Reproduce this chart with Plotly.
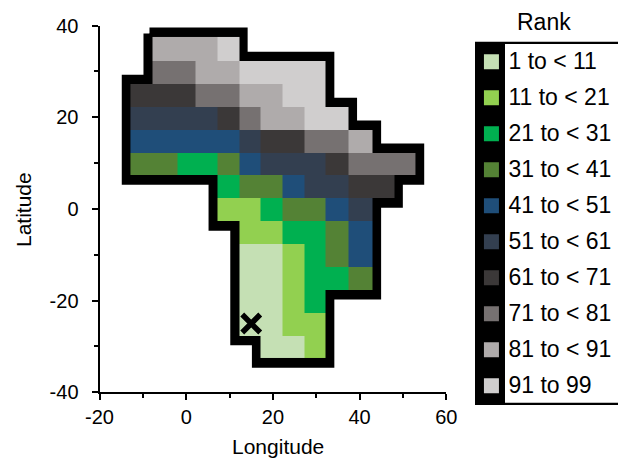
import plotly.graph_objects as go

N = None
rank_labels = ["1 to < 11", "11 to < 21", "21 to < 31", "31 to < 41", "41 to < 51",
               "51 to < 61", "61 to < 71", "71 to < 81", "81 to < 91", "91 to 99"]
rank_colors = ["#C5E0B4", "#92D050", "#00B050", "#548235", "#1F4E79",
               "#333F50", "#3B3838", "#767171", "#AFABAB", "#D0CECE"]

lon_edges = [-12.86, -7.85, -2.08, 2.15, 7.16, 12.17, 17.16, 22.17, 27.18, 32.17, 37.41, 42.96, 47.97, 52.9]
lat_edges = [37.5, 32.2, 27.2, 22.2, 17.2, 12.2, 7.3, 2.3, -2.7, -7.7, -12.6, -17.7, -22.6, -27.7, -32.6]

rank_grid = [
    [N, 9, 9, 9, 10, N, N, N, N, N, N, N, N],
    [N, 8, 8, 9, 9, 10, 10, 10, 10, N, N, N, N],
    [7, 7, 7, 8, 8, 9, 9, 10, 10, N, N, N, N],
    [6, 6, 6, 6, 7, 8, 9, 9, 10, 10, N, N, N],
    [5, 5, 5, 5, 5, 6, 7, 7, 8, 8, 9, N, N],
    [4, 4, 3, 3, 4, 5, 6, 6, 6, 7, 8, 8, 8],
    [N, N, N, N, 3, 4, 4, 5, 6, 6, 7, 7, N],
    [N, N, N, N, 2, 2, 3, 4, 4, 5, 6, N, N],
    [N, N, N, N, N, 2, 2, 3, 3, 4, 5, N, N],
    [N, N, N, N, N, 1, 1, 2, 3, 4, 5, N, N],
    [N, N, N, N, N, 1, 1, 2, 3, 3, 4, N, N],
    [N, N, N, N, N, 1, 1, 2, 3, N, N, N, N],
    [N, N, N, N, N, 1, 1, 2, 2, N, N, N, N],
    [N, N, N, N, N, N, 1, 1, 2, N, N, N, N],
]

# Region border, clockwise, as indices into lon_edges / lat_edges
border_cols = [1, 5, 5, 9, 9, 10, 10, 11, 11, 13, 13, 12, 12, 11, 11, 9, 9, 6, 6, 5, 5, 4, 4, 0, 0, 1]
border_rows = [0, 0, 1, 1, 3, 3, 4, 4, 5, 5, 6, 6, 7, 7, 11, 11, 14, 14, 13, 13, 8, 8, 6, 6, 2, 2]

marker_lon = [15]
marker_lat = [-25]

x_ticks = [-20, 0, 20, 40, 60]
y_ticks = [-40, -20, 0, 20, 40]

X_DOM = [99.5 / 618, 446.3 / 618]
Y_DOM = [1 - 392.3 / 462, 1 - 25.5 / 462]
X_RANGE = [-20, 60]
Y_RANGE = [-40, 40]
BORDER_GROW_LON, BORDER_GROW_LAT = 0.62, 0.75


def sign(v):
    return (v > 0) - (v < 0)


pts = [(lon_edges[c], lat_edges[r]) for c, r in zip(border_cols, border_rows)]
n = len(pts)
border_lon, border_lat = [], []
for i in range(n):
    px, py = pts[i - 1]
    cx, cy = pts[i]
    nx, ny = pts[(i + 1) % n]
    # Outward normal of a clockwise path is to the left of travel
    ox = -sign(cy - py) - sign(ny - cy)
    oy = sign(cx - px) + sign(nx - cx)
    border_lon.append(cx + ox * BORDER_GROW_LON)
    border_lat.append(cy + oy * BORDER_GROW_LAT)
border_lon.append(border_lon[0])
border_lat.append(border_lat[0])

colorscale = []
for i, c in enumerate(rank_colors):
    colorscale += [[i / 10, c], [(i + 1) / 10, c]]

FONT = "Liberation Sans, Arial, sans-serif"
fig = go.Figure()

fig.add_trace(go.Scatter(x=border_lon, y=border_lat, mode="lines", fill="toself",
                         fillcolor="black", line=dict(color="black", width=12),
                         hoverinfo="skip", showlegend=False))

fig.add_trace(go.Heatmap(x=lon_edges, y=lat_edges[::-1], z=rank_grid[::-1],
                         zmin=0.5, zmax=10.5, colorscale=colorscale, showscale=False,
                         xaxis="x2", yaxis="y2"))

fig.add_trace(go.Scatter(x=marker_lon, y=marker_lat, mode="markers",
                         marker=dict(symbol="x-thin", size=18, color="black",
                                     line=dict(color="black", width=5.5)),
                         xaxis="x2", yaxis="y2", showlegend=False))

# Rank key
fig.add_trace(go.Scatter(x=[0.115] * 10, y=rank_labels, mode="markers",
                         marker=dict(symbol="square", size=15, color=rank_colors),
                         xaxis="x3", yaxis="y3", showlegend=False))
fig.add_trace(go.Scatter(x=[0.234] * 10, y=rank_labels, mode="text", text=rank_labels,
                         textposition="middle right",
                         textfont=dict(family=FONT, size=23, color="black"),
                         cliponaxis=False, xaxis="x3", yaxis="y4", showlegend=False))

axis_common = dict(showgrid=False, zeroline=False, showline=True, linecolor="black",
                   linewidth=2, ticks="outside", ticklen=6, tickwidth=2, tickcolor="black",
                   tickfont=dict(family=FONT, size=20, color="black"), automargin=False)
minor_ticks = dict(dtick=10, ticks="outside", ticklen=4, tickwidth=2, tickcolor="black")
key_y = dict(visible=False, anchor="x3", type="category", categoryorder="array",
             categoryarray=rank_labels, range=[9.5, -0.5])

fig.update_layout(
    width=618, height=462,
    margin=dict(l=0, r=0, t=0, b=0),
    paper_bgcolor="white", plot_bgcolor="rgba(0,0,0,0)",
    showlegend=False,
    font=dict(family=FONT, color="black"),
    xaxis=dict(domain=X_DOM, range=X_RANGE, tickvals=x_ticks, ticktext=[str(v) for v in x_ticks],
               anchor="y", minor=minor_ticks, **axis_common),
    yaxis=dict(domain=Y_DOM, range=Y_RANGE, tickvals=y_ticks, ticktext=[str(v) for v in y_ticks],
               anchor="x", minor=minor_ticks, ticklabelstandoff=9, **axis_common),
    xaxis2=dict(overlaying="x", range=X_RANGE, visible=False),
    yaxis2=dict(overlaying="y", range=Y_RANGE, visible=False),
    xaxis3=dict(domain=[475 / 618, 1], range=[0, 1], visible=False, anchor="y3"),
    yaxis3=dict(domain=[1 - 403.7 / 462, 1 - 43.7 / 462], **key_y),
    yaxis4=dict(domain=[1 - 405 / 462, 1 - 45 / 462], **key_y),
    shapes=[
        dict(type="rect", xref="paper", yref="paper", layer="below",
             x0=475 / 618, x1=1, y0=1 - 405 / 462, y1=1 - 41.7 / 462,
             fillcolor="black", line=dict(width=0)),
        dict(type="rect", xref="paper", yref="paper", layer="below",
             x0=505 / 618, x1=1, y0=1 - 402.7 / 462, y1=1 - 44 / 462,
             fillcolor="white", line=dict(width=0)),
    ],
    annotations=[
        dict(text="Rank", xref="paper", yref="paper", x=544 / 618, y=1 - 22 / 462,
             xanchor="center", yanchor="middle", showarrow=False,
             font=dict(family=FONT, size=23, color="black")),
        dict(text="Longitude", xref="paper", yref="paper", x=278 / 618, y=1 - 446.5 / 462,
             xanchor="center", yanchor="middle", showarrow=False,
             font=dict(family=FONT, size=21, color="black")),
        dict(text="Latitude", xref="paper", yref="paper", x=24 / 618, y=1 - 209 / 462,
             xanchor="center", yanchor="middle", showarrow=False, textangle=-90,
             font=dict(family=FONT, size=21, color="black")),
    ],
)

fig.write_html("out.html", config={"displayModeBar": False},
               post_script="document.body.style.margin='0';")
